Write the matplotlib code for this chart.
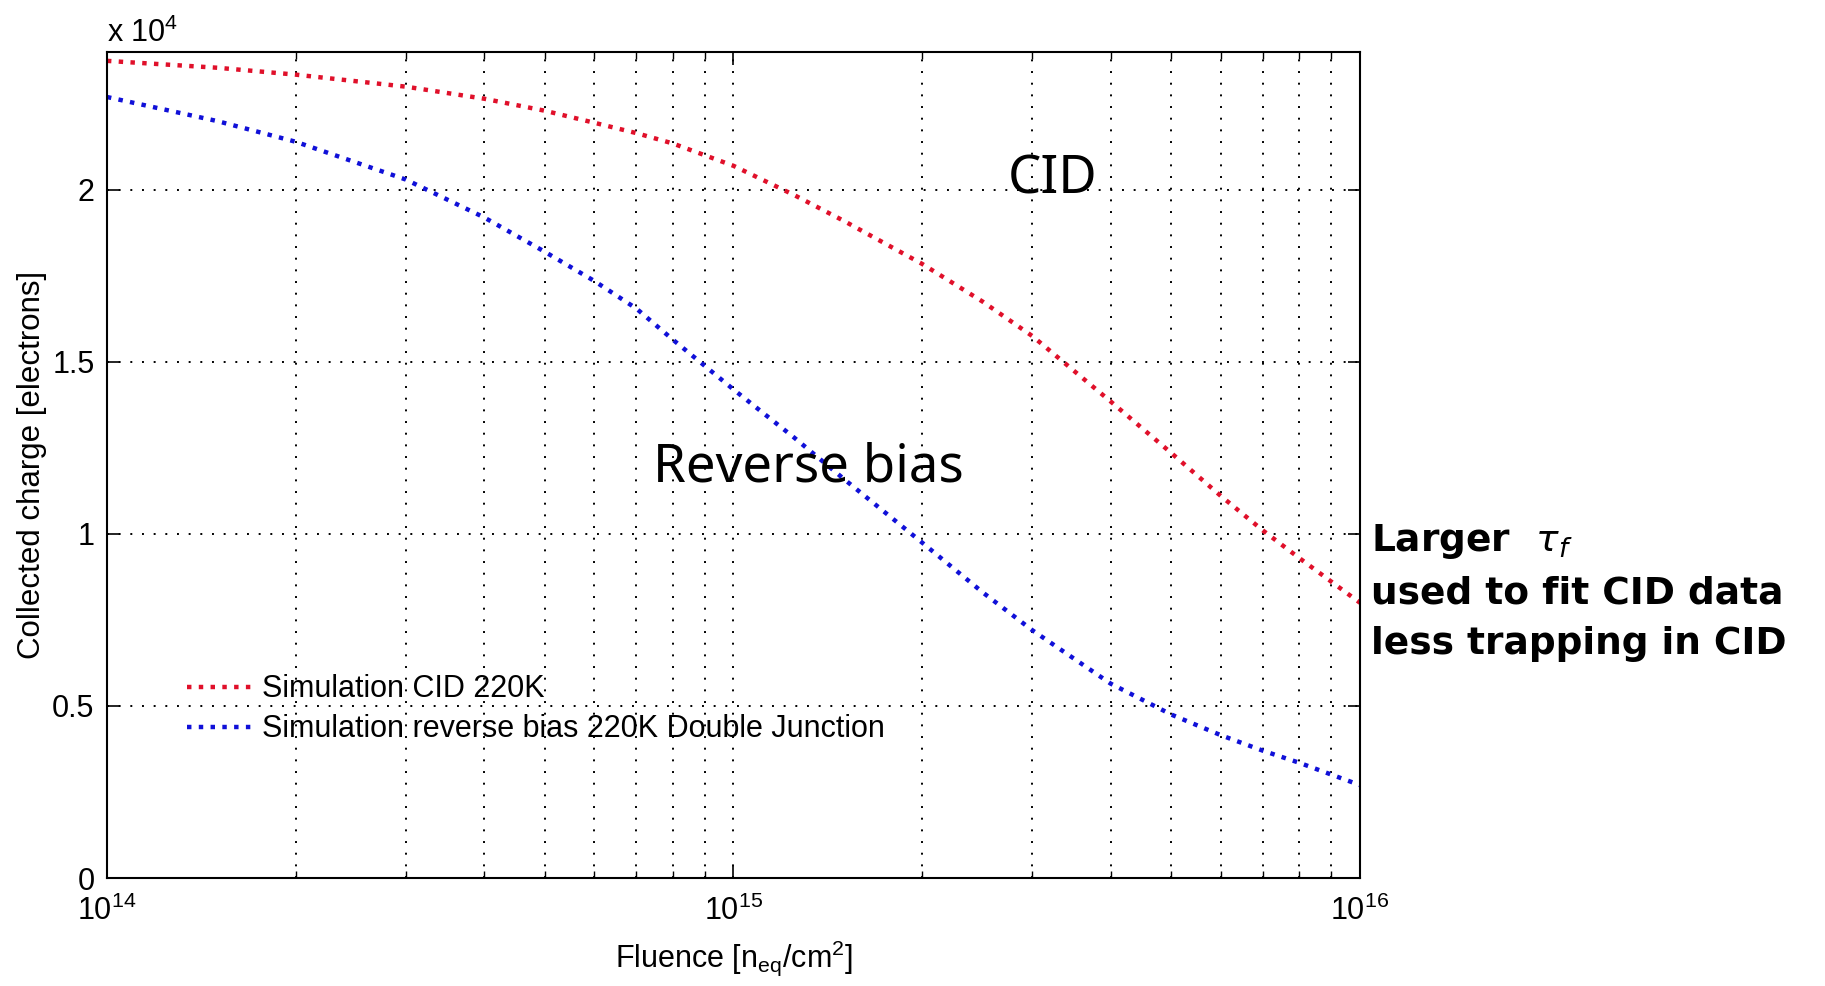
import numpy as np
import matplotlib
matplotlib.use("Agg")
import matplotlib.pyplot as plt
from matplotlib.ticker import FuncFormatter, LogLocator

# fluence points [n_eq/cm^2] and simulated collected charge [electrons]
fluence = [1e14, 1.5e14, 2e14, 3e14, 4e14, 5e14, 6e14, 7e14, 8e14, 1e15,
           1.25e15, 1.5e15, 2e15, 2.5e15, 3e15, 4e15, 5e15, 6e15, 7e15, 8e15, 1e16]
cid_charge = [23750, 23550, 23350, 23000, 22650, 22300, 21950, 21650, 21350, 20700,
              19850, 19100, 17850, 16750, 15750, 13850, 12350, 11100, 10100, 9300, 8000]
rb_charge = [22700, 22000, 21400, 20300, 19200, 18200, 17350, 16550, 15650, 14200,
             12800, 11600, 9750, 8300, 7200, 5650, 4750, 4150, 3700, 3350, 2700]

y_ticks = [0, 5000, 10000, 15000, 20000]

plt.rcParams['font.family'] = ['Liberation Sans', 'DejaVu Sans']

fig = plt.figure(figsize=(18.25, 9.86), dpi=100)
ax = fig.add_axes([0.0586, 0.1095, 0.6866, 0.8375])

ax.plot(fluence, cid_charge, ls=':', lw=3.2, color='#e0102a', label='Simulation CID 220K')
ax.plot(fluence, rb_charge, ls=':', lw=3.2, color='#1010d8',
        label='Simulation reverse bias 220K Double Junction')

ax.set_xscale('log')
ax.set_xlim(1e14, 1e16)
ax.set_ylim(0, 24000)
ax.set_yticks(y_ticks)
ax.yaxis.set_major_formatter(FuncFormatter(lambda v, p: f'{v / 1e4:g}'))
ax.xaxis.set_minor_locator(LogLocator(base=10, subs=np.arange(2, 10)))
ax.xaxis.set_minor_formatter(plt.NullFormatter())

grid_style = dict(ls=(0, (1, 5)), lw=1.4, color='k')
ax.grid(True, which='major', axis='both', **grid_style)
ax.grid(True, which='minor', axis='x', **grid_style)
ax.tick_params(which='both', direction='in', top=True, right=True, labelsize=22)
ax.tick_params(which='major', length=9, width=1.2, pad=9)
ax.tick_params(axis='x', which='major', pad=13)
ax.tick_params(which='minor', length=5, width=1.0)
for s in ax.spines.values():
    s.set_linewidth(1.5)

ax.set_xlabel('Fluence [n$_{\\mathregular{eq}}$/cm$^{\\mathregular{2}}$]', fontsize=22, labelpad=8)
ax.set_ylabel('Collected charge [electrons]', fontsize=22.5, labelpad=4)
ax.text(0.0, 1.004, 'x 10$^{\\mathregular{4}}$', transform=ax.transAxes, fontsize=22,
        ha='left', va='bottom')

ax.legend(loc='lower left', bbox_to_anchor=(0.064, 0.162), frameon=False,
          fontsize=22, handlelength=2.3, handletextpad=0.15, labelspacing=0.32,
          borderpad=0, borderaxespad=0)

label_font = dict(fontsize=38, family=['Noto Sans', 'DejaVu Sans'], ha='center', va='center')
ax.text(0.755, 0.845, 'CID', transform=ax.transAxes, **label_font)
ax.text(0.56, 0.497, 'Reverse bias', transform=ax.transAxes, **label_font)

note_font = dict(fontsize=27, fontweight='bold', family=['DejaVu Sans'],
                 ha='left', va='center')
fig.text(0.751, 0.451, 'Larger  $\\tau_f$', **note_font)
fig.text(0.751, 0.398, 'used to fit CID data', **note_font)
fig.text(0.751, 0.347, 'less trapping in CID', **note_font)

fig.savefig('out.png', dpi=100)
